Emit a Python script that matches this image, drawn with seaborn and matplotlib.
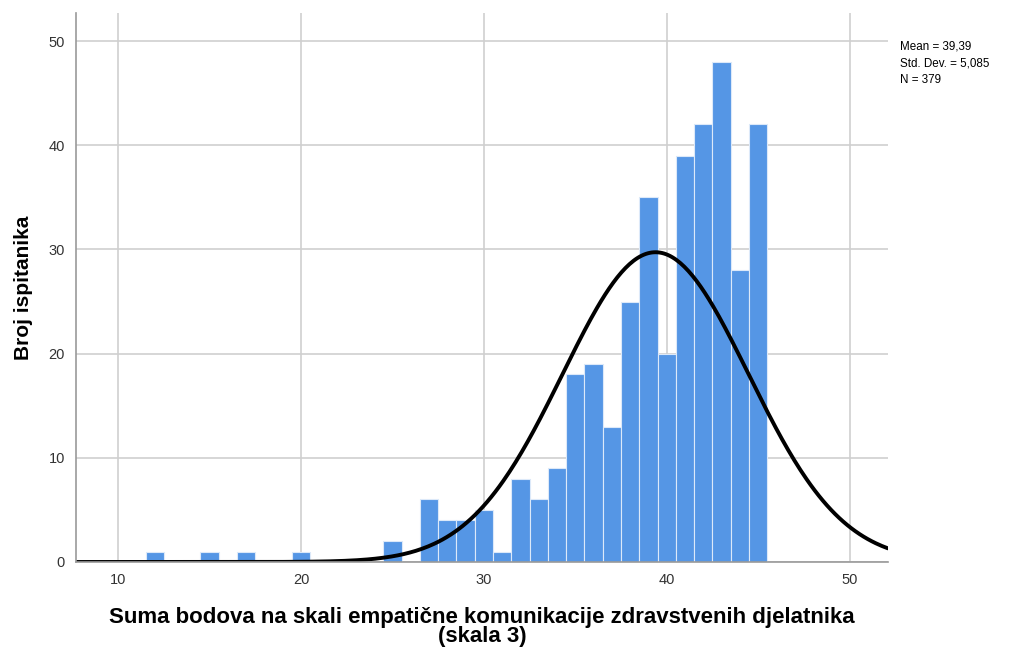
import numpy as np
import pandas as pd
import matplotlib
matplotlib.use("Agg")
import matplotlib.pyplot as plt
import seaborn as sns

# score values (bin centres) and number of respondents in each
scores = [12, 15, 17, 20, 25, 27, 28, 29, 30, 31, 32, 33, 34, 35, 36, 37,
          38, 39, 40, 41, 42, 43, 44, 45]
counts = [1, 1, 1, 1, 2, 6, 4, 4, 5, 1, 8, 6, 9, 18, 19, 13,
          25, 35, 20, 39, 42, 48, 28, 42]

mean = 39.39
std_dev = 5.085
n_total = 379
stats_lines = ["Mean = 39,39", "Std. Dev. = 5,085", "N = 379"]

x_ticks = [10, 20, 30, 40, 50]
y_ticks = [0, 10, 20, 30, 40, 50]

df = pd.DataFrame({"score": scores, "count": counts})

sns.set_theme(style="whitegrid")
plt.rcParams["font.family"] = ["Liberation Sans", "DejaVu Sans"]

fig = plt.figure(figsize=(10.23, 6.5), dpi=100)
ax = fig.add_axes([0.0743, 0.1354, 0.7937, 0.8446])

sns.histplot(
    data=df,
    x="score",
    weights="count",
    discrete=True,
    color="#5596e5",
    edgecolor="#dce9f9",
    linewidth=0.8,
    alpha=1.0,
    ax=ax,
)

# normal curve scaled to counts (bin width 1)
xs = np.linspace(7.7, 52.1, 400)
ys = n_total * np.exp(-0.5 * ((xs - mean) / std_dev) ** 2) / (std_dev * np.sqrt(2 * np.pi))
sns.lineplot(x=xs, y=ys, color="black", linewidth=2.8, ax=ax)

ax.set_xlim(7.7, 52.1)
ax.set_ylim(0, 52.7)
ax.set_xticks(x_ticks)
ax.set_yticks(y_ticks)
ax.tick_params(axis="both", labelsize=10.5, colors="#333333", length=0, pad=8)
ax.grid(True, color="#cfcfcf", linewidth=1.2)
ax.set_axisbelow(True)
for side in ["top", "right"]:
    ax.spines[side].set_visible(False)
for side in ["left", "bottom"]:
    ax.spines[side].set_color("#999999")
    ax.spines[side].set_linewidth(1.2)

ax.set_xlabel("Suma bodova na skali empatične komunikacije zdravstvenih djelatnika\n(skala 3)",
              fontsize=16, fontweight="bold", color="black", linespacing=0.92, labelpad=14)
ax.set_ylabel("Broj ispitanika", fontsize=15, fontweight="bold", color="black", labelpad=11)

fig.text(0.880, 0.937, "\n".join(stats_lines), fontsize=8.4, color="black",
         va="top", ha="left", linespacing=1.5)

fig.savefig("out.png", dpi=100, facecolor="white")
